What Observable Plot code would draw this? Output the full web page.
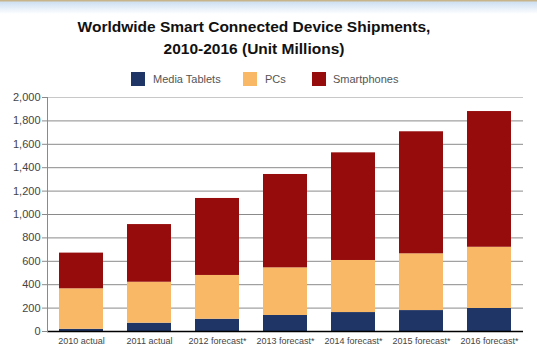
<!DOCTYPE html>
<html><head><meta charset="utf-8">
<script src="https://cdn.jsdelivr.net/npm/d3@7"></script>
<script src="https://cdn.jsdelivr.net/npm/@observablehq/plot@0.6"></script>
<style>
html,body{margin:0;padding:0;background:#fff;}
#wrap{position:relative;width:537px;height:357px;overflow:hidden;font-family:"Liberation Sans",Arial,sans-serif;}
#band{position:absolute;left:0;top:0;width:537px;height:14px;background:linear-gradient(#c8b48a 0px,#c8b48a 1px,#cfe0f2 2px,#dde9f6 6px,#ffffff 14px);}
#title{position:absolute;left:0;top:16px;width:508px;text-align:center;font-weight:bold;font-size:15.5px;line-height:22px;color:#111;}
#legend{position:absolute;top:72px;left:0;height:16px;font-size:11px;color:#555;}
.sw{position:absolute;top:0;width:14px;height:14px;}
.lt{position:absolute;top:1px;white-space:nowrap;}
#chart{position:absolute;left:0;top:85px;}
</style></head>
<body><div id="wrap"><div id="band"></div>
<div id="title">Worldwide Smart Connected Device Shipments,<br>2010-2016 (Unit Millions)</div>
<div id="legend"></div><div id="chart"></div></div>
<script>
const years = ["2010 actual","2011 actual","2012 forecast*","2013 forecast*","2014 forecast*","2015 forecast*","2016 forecast*"];
const seriesNames = ["Media Tablets","PCs","Smartphones"];
const colors = ["#1f3566","#f8b865","#960c0c"];
const tablets = [19,71,105,137,162,179,197];
const pcs = [346,350,374,407,445,485,523];
const smartphones = [305,493,658,798,920,1043,1160];
const yTicks = [0,200,400,600,800,1000,1200,1400,1600,1800,2000];

const table = [];
const vals = [tablets, pcs, smartphones];
years.forEach((y,i)=>seriesNames.forEach((s,j)=>table.push({year:y, series:s, value:vals[j][i]})));

// legend
const lg = document.getElementById("legend");
const legendX = [[131,153],[243,265],[312,333]];
seriesNames.forEach((s,i)=>{
  const sw=document.createElement("div");sw.className="sw";sw.style.left=legendX[i][0]+"px";sw.style.background=colors[i];lg.appendChild(sw);
  const t=document.createElement("div");t.className="lt";t.style.left=legendX[i][1]+"px";t.textContent=s;lg.appendChild(t);
});

const plot = Plot.plot({
  width:537, height:272,
  marginTop:12, marginBottom:26, marginLeft:47, marginRight:14,
  style:{fontFamily:"'Liberation Sans',Arial,sans-serif", background:"transparent"},
  x:{domain:years, paddingInner:0.35, paddingOuter:0.16, label:null, axis:null},
  y:{domain:[0,2000], label:null, axis:null},
  color:{domain:seriesNames, range:colors},
  marks:[
    Plot.ruleY(yTicks.filter(d=>d>0 && d<2000), {stroke:"#8a8a8a", strokeWidth:1}),
    Plot.ruleY([2000], {stroke:"#c8c8c8", strokeWidth:1}),
    Plot.barY(table, Plot.stackY({x:"year", y:"value", fill:"series", order:seriesNames})),
    Plot.axisY({ticks:yTicks, tickFormat:d3.format(","), tickSize:5, tickPadding:2, fontSize:11, color:"#444", stroke:"#8a8a8a"}),
    Plot.axisX({tickSize:0, tickPadding:6, fontSize:9, color:"#444"}),
    Plot.ruleY([0], {stroke:"#000", strokeWidth:1.5}),
    Plot.frame({anchor:"left", stroke:"#8a8a8a"})
  ]
});
document.getElementById("chart").appendChild(plot);
</script></body></html>
